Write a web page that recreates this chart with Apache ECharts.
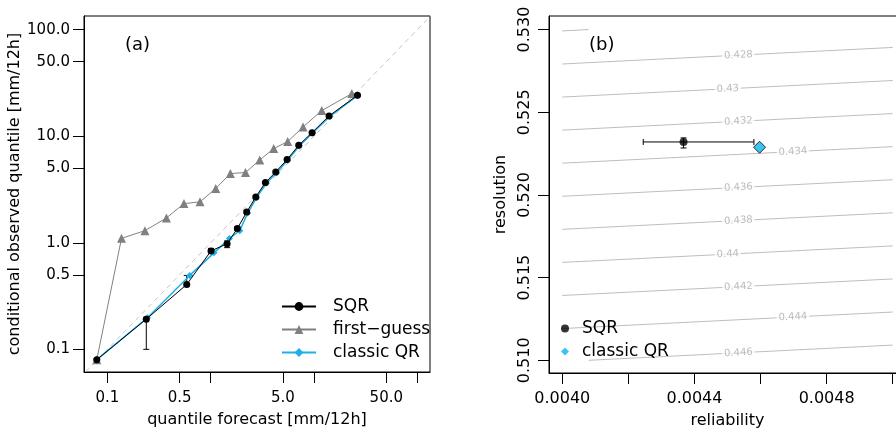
<!DOCTYPE html>
<html><head><meta charset="utf-8">
<script src="https://cdn.jsdelivr.net/npm/echarts@6/dist/echarts.min.js"></script>
<style>html,body{margin:0;padding:0;background:#fff;overflow:hidden;width:896px;height:432px}#c{width:912px;height:432px}</style>
</head><body><div id="c"></div>
<script>
// ---------- panel (a) data ----------
const sqrForecast = [0.079, 0.238, 0.586, 1.007, 1.44, 1.81, 2.23, 2.73, 3.38, 4.26, 5.48, 7.11, 9.56, 13.96, 26.3];
const sqrObserved = [0.080, 0.192, 0.406, 0.839, 0.98, 1.36, 1.94, 2.69, 3.67, 4.62, 6.03, 8.22, 10.8, 15.5, 24.2];
const sqrLow      = [0.078, 0.100, 0.395, 0.81, 0.90, 1.31, 1.88, 2.62, 3.58, 4.50, 5.88, 8.00, 10.5, 15.1, 23.6];
const sqrHigh     = [0.082, 0.200, 0.494, 0.885, 1.04, 1.42, 2.00, 2.76, 3.76, 4.74, 6.18, 8.45, 11.1, 15.9, 24.8];
const qrForecast  = [0.079, 0.244, 0.626, 1.076, 1.517, 1.91, 2.28, 2.78, 3.45, 4.35, 5.55, 7.2, 9.7, 14.2, 26.3];
const qrObserved  = [0.080, 0.198, 0.494, 0.804, 1.097, 1.30, 1.90, 2.65, 3.62, 4.55, 5.95, 8.1, 10.7, 15.3, 24.0];
const fgForecast  = [0.079, 0.137, 0.231, 0.373, 0.551, 0.788, 1.118, 1.55, 2.17, 2.98, 4.07, 5.56, 7.83, 11.87, 23.2];
const fgObserved  = [0.080, 1.10, 1.30, 1.71, 2.33, 2.42, 3.23, 4.46, 4.56, 5.98, 7.65, 8.9, 12.2, 17.4, 25.1];
const diagonal    = [0.01, 1000];
const logTicks    = [0.1, 0.5, 1, 5, 10, 50, 100];
const xLogLabels  = [0.1, 0.5, 5, 50];
const yLogLabels  = [0.1, 0.5, 1, 5, 10, 50, 100];

// ---------- panel (b) data ----------
const sqrRel = 0.004367, sqrRes = 0.523204;
const sqrRelLow = 0.004245, sqrRelHigh = 0.004580;
const sqrResLow = 0.52284, sqrResHigh = 0.52345;
const qrRel = 0.004597, qrRes = 0.522884;
const contourLabels = ['', '0.428', '0.43', '0.432', '0.434', '0.436', '0.438', '0.44', '0.442', '0.444', '0.446'];
const contourRel0 = [0.004, 0.004, 0.004, 0.004, 0.004, 0.004, 0.004, 0.004, 0.004, 0.004, 0.00408];
const contourRes0 = [0.52992, 0.52792, 0.52592, 0.52392, 0.52192, 0.51992, 0.51792, 0.51592, 0.51392, 0.51192, 0.510];
const contourRel1 = [0.00408, 0.005, 0.005, 0.005, 0.005, 0.005, 0.005, 0.005, 0.005, 0.005, 0.005];
const contourRes1 = [0.530, 0.52892, 0.52692, 0.52492, 0.52292, 0.52092, 0.51892, 0.51692, 0.51492, 0.51292, 0.51092];
const labelRel = [null, 0.004533, 0.004501, 0.004533, 0.004698, 0.004533, 0.004533, 0.004501, 0.004533, 0.004698, 0.004533];
const labelRes = [null, 0.52845, 0.52642, 0.52445, 0.52262, 0.52045, 0.51845, 0.51642, 0.51445, 0.51262, 0.51045];
const relTicks  = [0.0040, 0.0042, 0.0044, 0.0046, 0.0048, 0.0050];
const relLabels = [0.0040, 0.0044, 0.0048];
const resTicks  = [0.510, 0.515, 0.520, 0.525, 0.530];

const FONT = 'DejaVu Sans';
const BLUE = '#1DB0E8';
const zip = (a, b) => a.map((v, i) => [v, b[i]]);

function vErr(params, api) {
  const x = api.value(0), lo = api.value(1), hi = api.value(2);
  const a = api.coord([x, lo]), b = api.coord([x, hi]);
  const c = 3, st = {stroke: '#000', lineWidth: 1};
  return {type: 'group', children: [
    {type: 'line', shape: {x1: a[0], y1: a[1], x2: b[0], y2: b[1]}, style: st},
    {type: 'line', shape: {x1: a[0] - c, y1: a[1], x2: a[0] + c, y2: a[1]}, style: st},
    {type: 'line', shape: {x1: b[0] - c, y1: b[1], x2: b[0] + c, y2: b[1]}, style: st}
  ]};
}
function hErr(params, api) {
  const lo = api.value(0), hi = api.value(1), y = api.value(2);
  const a = api.coord([lo, y]), b = api.coord([hi, y]);
  const c = 3, st = {stroke: '#000', lineWidth: 1};
  return {type: 'group', children: [
    {type: 'line', shape: {x1: a[0], y1: a[1], x2: b[0], y2: b[1]}, style: st},
    {type: 'line', shape: {x1: a[0], y1: a[1] - c, x2: a[0], y2: a[1] + c}, style: st},
    {type: 'line', shape: {x1: b[0], y1: b[1] - c, x2: b[0], y2: b[1] + c}, style: st}
  ]};
}
function segment(params, api) {
  const a = api.coord([api.value(0), api.value(1)]), b = api.coord([api.value(2), api.value(3)]);
  return {type: 'line', shape: {x1: a[0], y1: a[1], x2: b[0], y2: b[1]}, style: {stroke: '#BDBDBD', lineWidth: 1}};
}

const axText = {color: '#000', fontFamily: FONT};
const chart = echarts.init(document.getElementById('c'), null, {renderer: 'canvas'});
chart.setOption({
  animation: false,
  textStyle: {fontFamily: FONT},
  title: [
    {text: '(a)', left: 125, top: 36, padding: 0, textStyle: {fontSize: 18, fontWeight: 'normal', color: '#000', fontFamily: FONT}},
    {text: '(b)', left: 589, top: 36, padding: 0, textStyle: {fontSize: 18, fontWeight: 'normal', color: '#000', fontFamily: FONT}}
  ],
  grid: [
    {left: 84, top: 16, width: 346, height: 356, show: true, borderColor: '#000', borderWidth: 1, backgroundColor: 'transparent', outerBoundsMode: 'none', containLabel: false},
    {left: 549, top: 16, width: 357, height: 357, show: true, borderColor: '#000', borderWidth: 1, backgroundColor: 'transparent', outerBoundsMode: 'none', containLabel: false}
  ],
  legend: [
    {data: ['SQR', 'first−guess', 'classic QR'], orient: 'vertical', left: 281, top: 298, padding: 0, itemWidth: 34, itemHeight: 11, itemGap: 6,
     selectedMode: false, textStyle: {fontSize: 17, color: '#000', fontFamily: FONT, padding: [0, 0, 0, 12]}},
    {data: [{name: 'SQR (b)'}, {name: 'classic QR (b)', itemStyle: {borderWidth: 0}}], orient: 'vertical', left: 561, top: 320, padding: 0,
     itemWidth: 8, itemHeight: 8, itemGap: 6, selectedMode: false, formatter: n => n.replace(' (b)', ''),
     textStyle: {fontSize: 17, color: '#000', fontFamily: FONT, padding: [0, 0, 0, 8]}}
  ],
  xAxis: [
    {type: 'log', gridIndex: 0, logBase: 10, min: 0.0594, max: 132.4,
     axisLine: {show: true, lineStyle: {color: '#000'}},
     axisTick: {show: true, length: 11, customValues: logTicks, lineStyle: {color: '#000'}},
     axisLabel: {customValues: xLogLabels, formatter: v => Number(v).toFixed(1), fontSize: 15, margin: 19, ...axText},
     splitLine: {show: false}, minorTick: {show: false},
     name: 'quantile forecast [mm/12h]', nameLocation: 'middle', nameGap: 40,
     nameTextStyle: {fontSize: 16, ...axText}},
    {type: 'value', gridIndex: 1, min: 0.0039598, max: 0.0050402,
     axisLine: {show: true, lineStyle: {color: '#000'}},
     axisTick: {show: true, length: 11, customValues: relTicks, lineStyle: {color: '#000'}},
     axisLabel: {customValues: relLabels, formatter: v => Number(v).toFixed(4), fontSize: 16, margin: 18, ...axText},
     splitLine: {show: false},
     name: 'reliability', nameLocation: 'middle', nameGap: 40, nameTextStyle: {fontSize: 16, ...axText}}
  ],
  yAxis: [
    {type: 'log', gridIndex: 0, logBase: 10, min: 0.0613, max: 134.2,
     axisLine: {show: true, lineStyle: {color: '#000'}},
     axisTick: {show: true, length: 11, customValues: logTicks, lineStyle: {color: '#000'}},
     axisLabel: {customValues: yLogLabels, formatter: v => Number(v).toFixed(1), fontSize: 15, margin: 14, ...axText},
     splitLine: {show: false}, minorTick: {show: false},
     name: 'conditional observed quantile [mm/12h]', nameLocation: 'middle', nameGap: 55,
     nameTextStyle: {fontSize: 16, ...axText}},
    {type: 'value', gridIndex: 1, min: 0.509232, max: 0.530822,
     axisLine: {show: true, lineStyle: {color: '#000'}},
     axisTick: {show: true, length: 11, customValues: resTicks, lineStyle: {color: '#000'}},
     axisLabel: {customValues: resTicks, formatter: v => Number(v).toFixed(3), rotate: 90, fontSize: 16, margin: 16, ...axText},
     splitLine: {show: false},
     name: 'resolution', nameLocation: 'middle', nameGap: 40, nameTextStyle: {fontSize: 16, ...axText}}
  ],
  series: [
    {type: 'line', xAxisIndex: 0, yAxisIndex: 0, data: zip(diagonal, diagonal), symbol: 'none', silent: true, clip: true,
     lineStyle: {color: '#C4C4C4', width: 1, type: [5, 4]}},
    {type: 'line', name: 'first−guess', xAxisIndex: 0, yAxisIndex: 0, data: zip(fgForecast, fgObserved),
     symbol: 'triangle', symbolSize: 9, color: '#808080', lineStyle: {color: '#808080', width: 1}, itemStyle: {color: '#808080'}},
    {type: 'line', name: 'classic QR', xAxisIndex: 0, yAxisIndex: 0, data: zip(qrForecast, qrObserved),
     symbol: 'diamond', symbolSize: 7, color: BLUE, lineStyle: {color: BLUE, width: 1.5}, itemStyle: {color: BLUE}},
    {type: 'custom', xAxisIndex: 0, yAxisIndex: 0, renderItem: vErr, encode: {x: 0, y: [1, 2]},
     data: sqrForecast.map((x, i) => [x, sqrLow[i], sqrHigh[i]]), silent: true, z: 3},
    {type: 'line', name: 'SQR', xAxisIndex: 0, yAxisIndex: 0, data: zip(sqrForecast, sqrObserved),
     symbol: 'circle', symbolSize: 7, color: '#000', lineStyle: {color: '#000', width: 1}, itemStyle: {color: '#000'}, z: 4},

    {type: 'custom', xAxisIndex: 1, yAxisIndex: 1, renderItem: segment, encode: {x: [0, 2], y: [1, 3]}, silent: true,
     data: contourRel0.map((r, i) => [r, contourRes0[i], contourRel1[i], contourRes1[i]])},
    {type: 'scatter', xAxisIndex: 1, yAxisIndex: 1, symbolSize: 0, silent: true,
     data: labelRel.map((r, i) => ({name: contourLabels[i], value: [r, labelRes[i]]})).filter(d => d.name !== ''),
     label: {show: true, position: 'inside', formatter: '{b}', color: '#ABABAB', fontSize: 10, fontFamily: FONT,
             backgroundColor: '#fff', padding: [0, 2], rotate: 3}},
    {type: 'custom', xAxisIndex: 1, yAxisIndex: 1, renderItem: hErr, encode: {x: [0, 1], y: 2}, silent: true, z: 3,
     data: [[sqrRelLow, sqrRelHigh, sqrRes]]},
    {type: 'custom', xAxisIndex: 1, yAxisIndex: 1, renderItem: vErr, encode: {x: 0, y: [1, 2]}, silent: true, z: 3,
     data: [[sqrRel, sqrResLow, sqrResHigh]]},
    {type: 'scatter', name: 'SQR (b)', xAxisIndex: 1, yAxisIndex: 1, data: [[sqrRel, sqrRes]], symbol: 'circle', symbolSize: 8,
     itemStyle: {color: '#000'}, z: 4},
    {type: 'scatter', name: 'classic QR (b)', xAxisIndex: 1, yAxisIndex: 1, data: [[qrRel, qrRes]], symbol: 'diamond', symbolSize: 12,
     itemStyle: {color: '#0BB4EE', borderColor: '#000', borderWidth: 1}, z: 4}
  ]
});
</script></body></html>
